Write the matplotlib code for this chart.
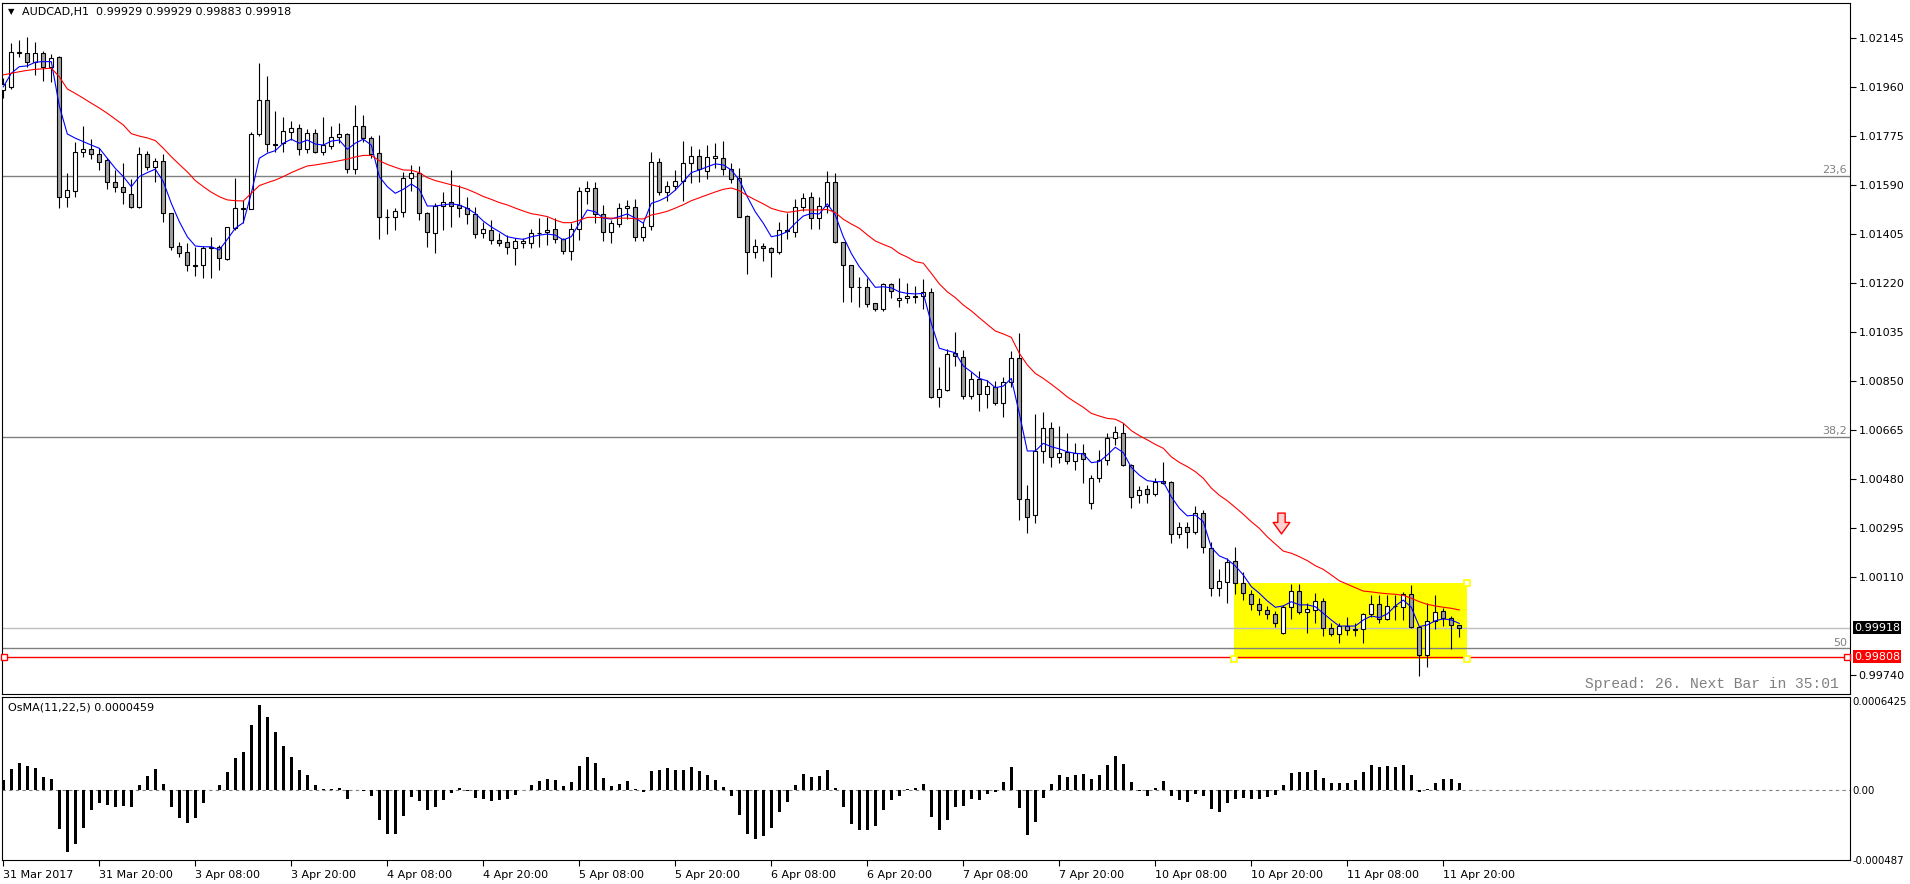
import matplotlib
matplotlib.use('Agg')
import matplotlib.pyplot as plt
import matplotlib.transforms as mtransforms
from matplotlib.patches import Rectangle
from matplotlib.path import Path
import numpy as np

# AUDCAD H1, one candle per hour from 31 Mar 2017 08:00 to 11 Apr 2017 22:00
opens = [
    1.01948, 1.01960, 1.02090, 1.02087, 1.02053, 1.02087, 1.02036, 1.02071, 1.01543, 1.01568,
    1.01715, 1.01724, 1.01705, 1.01684, 1.01602, 1.01581, 1.01554, 1.01507, 1.01706, 1.01658,
    1.01680, 1.01485, 1.01359, 1.01335, 1.01287, 1.01287, 1.01350, 1.01356, 1.01309, 1.01426,
    1.01501, 1.01500, 1.01781, 1.01910, 1.01744, 1.01747, 1.01788, 1.01803, 1.01724, 1.01784,
    1.01715, 1.01737, 1.01769, 1.01781, 1.01649, 1.01812, 1.01766, 1.01709, 1.01470, 1.01470,
    1.01488, 1.01615, 1.01636, 1.01482, 1.01407, 1.01510, 1.01526, 1.01514, 1.01501, 1.01479,
    1.01407, 1.01419, 1.01381, 1.01373, 1.01350, 1.01369, 1.01369, 1.01407, 1.01411, 1.01422,
    1.01384, 1.01341, 1.01422, 1.01567, 1.01577, 1.01479, 1.01413, 1.01442, 1.01501, 1.01505,
    1.01394, 1.01436, 1.01675, 1.01562, 1.01587, 1.01606, 1.01671, 1.01700, 1.01642, 1.01690,
    1.01690, 1.01649, 1.01615, 1.01472, 1.01337, 1.01359, 1.01350, 1.01335, 1.01419, 1.01413,
    1.01507, 1.01543, 1.01464, 1.01511, 1.01599, 1.01375, 1.01287, 1.01203, 1.01205, 1.01143,
    1.01120, 1.01214, 1.01155, 1.01161, 1.01171, 1.01170, 1.01184, 1.00788, 1.00815, 1.00954,
    1.00941, 1.00794, 1.00856, 1.00799, 1.00828, 1.00765, 1.00847, 1.00935, 1.00403, 1.00343,
    1.00585, 1.00671, 1.00561, 1.00582, 1.00548, 1.00576, 1.00388, 1.00482, 1.00551, 1.00633,
    1.00654, 1.00532, 1.00419, 1.00440, 1.00423, 1.00472, 1.00467, 1.00270, 1.00299, 1.00278,
    1.00352, 1.00218, 1.00067, 1.00089, 1.00170, 1.00085, 1.00045, 1.00006, 0.99985, 0.99968,
    0.99897, 0.99997, 1.00056, 0.99976, 0.99985, 1.00019, 0.99916, 0.99893, 0.99924, 0.99913,
    0.99912, 0.99968, 1.00007, 0.99950, 1.00000, 0.99997, 1.00045, 0.99922, 0.99815, 0.99943,
    0.99981, 0.99953, 0.99929,
]
highs = [
    1.01993, 1.02124, 1.02137, 1.02147, 1.02130, 1.02096, 1.02084, 1.02076, 1.01633, 1.01750,
    1.01812, 1.01762, 1.01730, 1.01690, 1.01646, 1.01673, 1.01612, 1.01732, 1.01719, 1.01692,
    1.01705, 1.01485, 1.01373, 1.01369, 1.01356, 1.01359, 1.01392, 1.01363, 1.01432, 1.01615,
    1.01533, 1.01791, 1.02049, 1.02002, 1.01869, 1.01847, 1.01832, 1.01820, 1.01800, 1.01800,
    1.01845, 1.01812, 1.01822, 1.01786, 1.01891, 1.01854, 1.01774, 1.01778, 1.01499, 1.01501,
    1.01639, 1.01665, 1.01661, 1.01487, 1.01520, 1.01564, 1.01646, 1.01589, 1.01545, 1.01507,
    1.01451, 1.01457, 1.01407, 1.01400, 1.01388, 1.01388, 1.01423, 1.01466, 1.01468, 1.01464,
    1.01390, 1.01445, 1.01581, 1.01604, 1.01602, 1.01514, 1.01457, 1.01520, 1.01533, 1.01536,
    1.01451, 1.01715, 1.01692, 1.01604, 1.01646, 1.01755, 1.01738, 1.01724, 1.01740, 1.01747,
    1.01755, 1.01673, 1.01652, 1.01476, 1.01384, 1.01369, 1.01356, 1.01451, 1.01482, 1.01535,
    1.01560, 1.01564, 1.01545, 1.01642, 1.01636, 1.01375, 1.01287, 1.01243, 1.01237, 1.01143,
    1.01218, 1.01221, 1.01237, 1.01221, 1.01208, 1.01233, 1.01199, 1.00901, 1.00969, 1.01035,
    1.00966, 1.00884, 1.00887, 1.00853, 1.00850, 1.00866, 1.00964, 1.01029, 1.00457, 1.00725,
    1.00731, 1.00693, 1.00679, 1.00652, 1.00616, 1.00610, 1.00494, 1.00589, 1.00653, 1.00679,
    1.00692, 1.00536, 1.00454, 1.00457, 1.00483, 1.00545, 1.00472, 1.00318, 1.00318, 1.00378,
    1.00362, 1.00243, 1.00138, 1.00180, 1.00221, 1.00127, 1.00060, 1.00029, 1.00000, 0.99981,
    1.00003, 1.00082, 1.00083, 1.00010, 1.00050, 1.00029, 0.99934, 0.99934, 0.99957, 0.99934,
    0.99974, 1.00041, 1.00041, 1.00041, 1.00041, 1.00054, 1.00079, 0.99924, 1.00010, 1.00041,
    0.99993, 0.99963, 0.99929,
]
lows = [
    1.01918, 1.01950, 1.02074, 1.02036, 1.02005, 1.01983, 1.01979, 1.01502, 1.01507, 1.01545,
    1.01696, 1.01687, 1.01646, 1.01573, 1.01564, 1.01518, 1.01501, 1.01502, 1.01646, 1.01602,
    1.01451, 1.01344, 1.01319, 1.01266, 1.01246, 1.01237, 1.01237, 1.01268, 1.01306, 1.01419,
    1.01445, 1.01497, 1.01775, 1.01715, 1.01715, 1.01715, 1.01759, 1.01703, 1.01711, 1.01710,
    1.01703, 1.01725, 1.01747, 1.01636, 1.01631, 1.01753, 1.01690, 1.01385, 1.01404, 1.01419,
    1.01470, 1.01567, 1.01457, 1.01356, 1.01331, 1.01419, 1.01432, 1.01470, 1.01441, 1.01388,
    1.01388, 1.01365, 1.01360, 1.01329, 1.01287, 1.01350, 1.01352, 1.01356, 1.01363, 1.01369,
    1.01329, 1.01306, 1.01382, 1.01518, 1.01445, 1.01379, 1.01371, 1.01430, 1.01461, 1.01379,
    1.01379, 1.01419, 1.01552, 1.01530, 1.01570, 1.01530, 1.01598, 1.01602, 1.01612, 1.01652,
    1.01627, 1.01598, 1.01467, 1.01253, 1.01313, 1.01303, 1.01243, 1.01329, 1.01384, 1.01394,
    1.01492, 1.01422, 1.01422, 1.01482, 1.01369, 1.01146, 1.01149, 1.01128, 1.01128, 1.01115,
    1.01115, 1.01161, 1.01130, 1.01145, 1.01143, 1.01120, 1.00784, 1.00752, 1.00812, 1.00906,
    1.00780, 1.00780, 1.00737, 1.00748, 1.00759, 1.00712, 1.00828, 1.00324, 1.00274, 1.00314,
    1.00539, 1.00526, 1.00539, 1.00536, 1.00513, 1.00465, 1.00365, 1.00469, 1.00532, 1.00608,
    1.00528, 1.00369, 1.00390, 1.00388, 1.00415, 1.00460, 1.00239, 1.00255, 1.00218, 1.00272,
    1.00201, 1.00038, 1.00038, 1.00012, 1.00045, 1.00022, 0.99985, 0.99966, 0.99951, 0.99919,
    0.99894, 0.99951, 0.99970, 0.99899, 0.99934, 0.99888, 0.99888, 0.99859, 0.99890, 0.99887,
    0.99859, 0.99957, 0.99934, 0.99947, 0.99947, 0.99947, 0.99916, 0.99737, 0.99771, 0.99913,
    0.99924, 0.99837, 0.99883,
]
closes = [
    1.01971, 1.02090, 1.02088, 1.02053, 1.02087, 1.02036, 1.02068, 1.01543, 1.01570, 1.01715,
    1.01724, 1.01705, 1.01677, 1.01602, 1.01581, 1.01564, 1.01507, 1.01705, 1.01658, 1.01680,
    1.01482, 1.01356, 1.01334, 1.01287, 1.01285, 1.01350, 1.01354, 1.01313, 1.01430, 1.01501,
    1.01500, 1.01781, 1.01910, 1.01744, 1.01742, 1.01793, 1.01803, 1.01724, 1.01784, 1.01713,
    1.01740, 1.01769, 1.01781, 1.01649, 1.01812, 1.01766, 1.01706, 1.01470, 1.01468, 1.01491,
    1.01615, 1.01636, 1.01482, 1.01411, 1.01510, 1.01526, 1.01510, 1.01501, 1.01479, 1.01403,
    1.01422, 1.01380, 1.01371, 1.01356, 1.01378, 1.01378, 1.01407, 1.01409, 1.01419, 1.01384,
    1.01341, 1.01422, 1.01567, 1.01577, 1.01479, 1.01413, 1.01445, 1.01501, 1.01510, 1.01394,
    1.01430, 1.01675, 1.01562, 1.01587, 1.01606, 1.01671, 1.01700, 1.01650, 1.01694, 1.01699,
    1.01649, 1.01611, 1.01470, 1.01337, 1.01359, 1.01350, 1.01335, 1.01419, 1.01416, 1.01507,
    1.01539, 1.01464, 1.01511, 1.01599, 1.01375, 1.01287, 1.01203, 1.01205, 1.01139, 1.01120,
    1.01214, 1.01188, 1.01161, 1.01170, 1.01165, 1.01184, 1.00788, 1.00818, 1.00950, 1.00945,
    1.00794, 1.00856, 1.00799, 1.00832, 1.00765, 1.00847, 1.00935, 1.00403, 1.00335, 1.00585,
    1.00671, 1.00561, 1.00576, 1.00547, 1.00576, 1.00554, 1.00482, 1.00551, 1.00633, 1.00658,
    1.00532, 1.00412, 1.00438, 1.00423, 1.00469, 1.00463, 1.00270, 1.00299, 1.00278, 1.00352,
    1.00221, 1.00067, 1.00094, 1.00167, 1.00085, 1.00048, 1.00006, 0.99985, 0.99968, 0.99934,
    0.99997, 1.00056, 0.99976, 0.99987, 1.00019, 0.99916, 0.99893, 0.99924, 0.99909, 0.99909,
    0.99968, 1.00007, 0.99950, 1.00000, 0.99998, 1.00045, 0.99922, 0.99815, 0.99943, 0.99976,
    0.99956, 0.99929, 0.99918,
]
# blue (fast) and red (slow) moving averages
ma_fast = [
    1.01960, 1.02011, 1.02036, 1.02039, 1.02053, 1.02055, 1.02055, 1.01888, 1.01782, 1.01766,
    1.01753, 1.01740, 1.01728, 1.01690, 1.01652, 1.01621, 1.01583, 1.01621, 1.01636, 1.01649,
    1.01602, 1.01520, 1.01451, 1.01394, 1.01359, 1.01356, 1.01356, 1.01344, 1.01384, 1.01426,
    1.01447, 1.01558, 1.01690, 1.01709, 1.01719, 1.01747, 1.01762, 1.01747, 1.01759, 1.01744,
    1.01740, 1.01755, 1.01759, 1.01724, 1.01747, 1.01762, 1.01740, 1.01621, 1.01583, 1.01558,
    1.01573, 1.01593, 1.01573, 1.01510, 1.01510, 1.01514, 1.01518, 1.01514, 1.01501, 1.01482,
    1.01453, 1.01431, 1.01413, 1.01394, 1.01388, 1.01384, 1.01394, 1.01400, 1.01404, 1.01400,
    1.01382, 1.01394, 1.01445, 1.01495, 1.01488, 1.01464, 1.01461, 1.01470, 1.01480, 1.01464,
    1.01445, 1.01520, 1.01530, 1.01545, 1.01570, 1.01602, 1.01636, 1.01646, 1.01658, 1.01669,
    1.01665, 1.01646, 1.01608, 1.01545, 1.01488, 1.01445, 1.01394, 1.01400, 1.01413, 1.01445,
    1.01472, 1.01482, 1.01480, 1.01518, 1.01476, 1.01394, 1.01331, 1.01281, 1.01243, 1.01203,
    1.01205, 1.01201, 1.01186, 1.01180, 1.01178, 1.01180, 1.01067, 1.00973, 1.00964, 1.00956,
    1.00906, 1.00884, 1.00859, 1.00850, 1.00824, 1.00830, 1.00859, 1.00727, 1.00585, 1.00585,
    1.00614, 1.00601, 1.00593, 1.00582, 1.00576, 1.00574, 1.00541, 1.00545, 1.00570, 1.00599,
    1.00579, 1.00523, 1.00494, 1.00473, 1.00469, 1.00469, 1.00412, 1.00369, 1.00340, 1.00343,
    1.00318, 1.00221, 1.00189, 1.00176, 1.00151, 1.00117, 1.00073, 1.00048, 1.00019, 0.99995,
    1.00000, 1.00016, 1.00004, 1.00004, 0.99997, 0.99972, 0.99947, 0.99924, 0.99924, 0.99924,
    0.99947, 0.99962, 0.99956, 0.99970, 1.00000, 1.00022, 0.99995, 0.99922, 0.99928, 0.99944,
    0.99951, 0.99947, 0.99934,
]
ma_slow = [
    1.02005, 1.02011, 1.02017, 1.02022, 1.02026, 1.02028, 1.02030, 1.01998, 1.01952, 1.01935,
    1.01917, 1.01898, 1.01880, 1.01860, 1.01838, 1.01816, 1.01783, 1.01774, 1.01767, 1.01757,
    1.01728, 1.01696, 1.01667, 1.01639, 1.01606, 1.01583, 1.01562, 1.01545, 1.01533, 1.01530,
    1.01529, 1.01558, 1.01587, 1.01598, 1.01608, 1.01621, 1.01636, 1.01649, 1.01661, 1.01665,
    1.01670, 1.01675, 1.01681, 1.01687, 1.01695, 1.01701, 1.01701, 1.01681, 1.01667, 1.01656,
    1.01646, 1.01645, 1.01636, 1.01617, 1.01606, 1.01598, 1.01590, 1.01583, 1.01573, 1.01560,
    1.01546, 1.01535, 1.01523, 1.01514, 1.01502, 1.01491, 1.01481, 1.01476, 1.01470, 1.01457,
    1.01447, 1.01447, 1.01456, 1.01467, 1.01467, 1.01466, 1.01464, 1.01464, 1.01464, 1.01462,
    1.01461, 1.01476, 1.01482, 1.01490, 1.01502, 1.01515, 1.01530, 1.01541, 1.01552, 1.01563,
    1.01573, 1.01578, 1.01568, 1.01549, 1.01533, 1.01518, 1.01501, 1.01492, 1.01486, 1.01490,
    1.01495, 1.01495, 1.01495, 1.01497, 1.01485, 1.01460, 1.01442, 1.01426, 1.01401, 1.01378,
    1.01365, 1.01353, 1.01331, 1.01317, 1.01300, 1.01294, 1.01256, 1.01216, 1.01186, 1.01164,
    1.01136, 1.01114, 1.01088, 1.01063, 1.01038, 1.01027, 1.01014, 1.00954, 1.00910, 1.00878,
    1.00859, 1.00837, 1.00814, 1.00789, 1.00769, 1.00750, 1.00727, 1.00717, 1.00708, 1.00705,
    1.00690, 1.00662, 1.00643, 1.00627, 1.00610, 1.00595, 1.00563, 1.00542, 1.00526, 1.00507,
    1.00482, 1.00445, 1.00418, 1.00397, 1.00372, 1.00346, 1.00318, 1.00293, 1.00261, 1.00234,
    1.00207, 1.00199, 1.00186, 1.00171, 1.00152, 1.00138, 1.00117, 1.00095, 1.00082, 1.00069,
    1.00056, 1.00053, 1.00049, 1.00046, 1.00044, 1.00040, 1.00029, 1.00016, 1.00006, 1.00000,
    0.99995, 0.99991, 0.99985,
]
# OsMA(11,22,5) histogram
osma = [
    0.0000643, 0.000145, 0.000186, 0.000165, 0.000152, 0.0000895, 0.0000758, -0.000273, -0.000432, -0.000377,
    -0.000266, -0.000142, -0.0000895, -0.000108, -0.000122, -0.000115, -0.000122, 0.0000344, 0.0000964, 0.000145,
    0.0000413, -0.000122, -0.000197, -0.000232, -0.000197, -0.0000941, -0.000002, 0.0000344, 0.000124, 0.000220,
    0.000262, 0.000448, 0.000585, 0.000503, 0.000397, 0.000303, 0.000227, 0.000138, 0.000103, 0.0000344,
    0.000005, 0.000004, 0.0000115, -0.0000643, -0.000005, -0.000007, -0.0000459, -0.000211, -0.000308, -0.000308,
    -0.000184, -0.0000528, -0.0000804, -0.000140, -0.000122, -0.0000735, -0.0000253, 0.0000092, -0.000007, -0.0000597,
    -0.0000643, -0.0000804, -0.0000712, -0.0000643, -0.000039, -0.000004, 0.0000321, 0.000062, 0.0000735, 0.0000689,
    0.0000276, 0.0000551, 0.000165, 0.000227, 0.000186, 0.0000804, 0.0000276, 0.000039, 0.000062, 0.000005,
    -0.0000184, 0.000131, 0.000138, 0.000152, 0.000138, 0.000138, 0.000158, 0.000130, 0.000103, 0.0000689,
    0.0000184, -0.0000413, -0.000172, -0.000305, -0.000344, -0.000321, -0.000266, -0.000156, -0.0000827, 0.0000344,
    0.000110, 0.0000895, 0.0000964, 0.000138, 0.0000138, -0.000122, -0.000241, -0.000276, -0.000280, -0.000253,
    -0.000142, -0.0000735, -0.0000413, 0.000002, 0.0000138, 0.0000413, -0.000191, -0.000280, -0.000211, -0.000122,
    -0.000110, -0.0000643, -0.0000689, -0.0000276, -0.0000184, 0.0000551, 0.000158, -0.000129, -0.000315, -0.000225,
    -0.0000597, 0.000039, 0.000103, 0.0000895, 0.000103, 0.000110, 0.0000735, 0.000103, 0.000172, 0.000234,
    0.000179, 0.0000551, -0.0000069, -0.0000413, 0.0000138, 0.000062, -0.0000459, -0.0000735, -0.0000872, -0.0000276,
    -0.0000413, -0.000133, -0.000156, -0.0000941, -0.0000666, -0.0000551, -0.000062, -0.000062, -0.0000505, -0.000039,
    0.0000344, 0.000117, 0.000124, 0.000124, 0.000138, 0.0000827, 0.0000482, 0.0000482, 0.0000482, 0.0000689,
    0.000124, 0.000172, 0.000158, 0.000165, 0.000158, 0.000172, 0.000103, -0.0000161, 0.000002, 0.0000482,
    0.0000758, 0.0000758, 0.0000459,
]

time_labels = ['31 Mar 2017', '31 Mar 20:00', '3 Apr 08:00', '3 Apr 20:00', '4 Apr 08:00',
               '4 Apr 20:00', '5 Apr 08:00', '5 Apr 20:00', '6 Apr 08:00', '6 Apr 20:00',
               '7 Apr 08:00', '7 Apr 20:00', '10 Apr 08:00', '10 Apr 20:00', '11 Apr 08:00',
               '11 Apr 20:00']
price_ticks = [1.02145, 1.01960, 1.01775, 1.01590, 1.01405, 1.01220, 1.01035,
               1.00850, 1.00665, 1.00480, 1.00295, 1.00110, 0.99740]
fib_levels = [1.01623, 1.00639, 0.99840]
fib_names = ['23,6', '38,2', '50']
bid_price = 0.99918
line_price = 0.99808
box_top, box_bottom = 1.00088, 0.99800
osma_top, osma_bottom = 0.0006425, -0.000487
title = 'AUDCAD,H1  0.99929 0.99929 0.99883 0.99918'
osma_title = 'OsMA(11,22,5) 0.0000459'

# ---- layout (pixels of the 1910x884 picture) ----
W, H = 1910, 884
bar_px, first_px = 8.0, 3.3
plt.rcParams['font.family'] = 'DejaVu Sans'

fig = plt.figure(figsize=(W / 100, H / 100), dpi=100)
ax = fig.add_axes([2 / W, 1 - 694 / H, 1848 / W, 691 / H])
ax2 = fig.add_axes([2 / W, 1 - 860 / H, 1848 / W, 163 / H])

n = len(closes)
x = np.arange(n)
xlim = ((2 - first_px) / bar_px, (1850 - first_px) / bar_px)
def px_to_bar(px):
    return (px - first_px) / bar_px

o, h, l, c = map(np.array, (opens, highs, lows, closes))

# yellow zone and horizontal objects behind candles
ax.add_patch(Rectangle((px_to_bar(1234), box_bottom), px_to_bar(1467) - px_to_bar(1234),
                       box_top - box_bottom, facecolor='#ffff00', edgecolor='none', zorder=1))
for lvl, name in zip(fib_levels, fib_names):
    ax.axhline(lvl, color='#808080', lw=1, zorder=1.5)
    ax.text(px_to_bar(1847), lvl + 0.00003, name, ha='right', va='bottom',
            color='#808080', fontsize=8, zorder=6)
ax.axhline(bid_price, color='#c0c0c0', lw=1, zorder=1.5)
ax.axhline(line_price, color='#ff0000', lw=1, zorder=1.6)

# candles
up = c >= o
ax.vlines(x, l, h, color='black', lw=0.8, zorder=3)
ax.bar(x, np.abs(c - o), bottom=np.minimum(o, c), width=0.5,
       color=np.where(up, 'white', '#a0a0a0'), edgecolor='black', linewidth=0.8, zorder=4)

ax.plot(x, ma_fast, color='#0000ff', lw=0.8, zorder=5)
ax.plot(x, ma_slow, color='#ff0000', lw=0.8, zorder=5)

# selection anchors
ax.plot([px_to_bar(4), px_to_bar(1847)], [line_price, line_price], 's', ms=4,
        mfc='white', mec='#ff0000', mew=1, zorder=6, clip_on=False)
ax.plot([px_to_bar(1467), px_to_bar(1234), px_to_bar(1467)], [box_top, box_bottom, box_bottom],
        's', ms=4, mfc='white', mec='#ffff00', mew=1.2, zorder=6)

# hollow down arrow
arrow = Path([(-0.35, 1), (0.35, 1), (0.35, 0.1), (0.8, 0.1), (0, -1), (-0.8, 0.1), (-0.35, 0.1), (-0.35, 1)],
             [Path.MOVETO] + [Path.LINETO] * 6 + [Path.CLOSEPOLY])
ax.plot([px_to_bar(1281)], [1.00313], marker=arrow, ms=15, mfc='#ffd0d0', mec='#ff0000', mew=1, zorder=6)

ax.set_xlim(*xlim)
ax.set_ylim(0.996675, 1.022764)
ax.yaxis.tick_right()
ax.set_yticks(price_ticks)
ax.set_yticklabels(['%.5f' % p for p in price_ticks])
ax.tick_params(axis='y', length=4, width=0.8, pad=2, labelsize=8, colors='black')
ax.tick_params(axis='x', bottom=False, labelbottom=False)
for s in ax.spines.values():
    s.set_linewidth(0.8)

# price labels on the right axis
lab_tr = mtransforms.blended_transform_factory(fig.transFigure, ax.transData)
ax.text(1854 / W, bid_price, '%.5f' % bid_price, transform=lab_tr, ha='left', va='center',
        color='white', fontsize=8, bbox=dict(boxstyle='square,pad=0.12', fc='black', ec='none'))
ax.text(1854 / W, line_price, '%.5f' % line_price, transform=lab_tr, ha='left', va='center',
        color='white', fontsize=8, bbox=dict(boxstyle='square,pad=0.12', fc='#ff0000', ec='none'))

fig.text(8 / W, 1 - 12 / H, '\u25bc', fontsize=6, va='center')
fig.text(22 / W, 1 - 12.5 / H, title, fontsize=8, va='center')
fig.text(1839 / W, 1 - 684 / H, 'Spread: 26. Next Bar in 35:01', ha='right', va='center',
         family='Liberation Mono', fontsize=10.5, color='#808080')

# OsMA panel
ax2.bar(x, osma, width=0.375, color='black', linewidth=0, zorder=3)
ax2.axhline(0, color='#808080', lw=0.8, ls=(0, (3, 3)), zorder=2)
ax2.set_xlim(*xlim)
ax2.set_ylim(osma_bottom, osma_top)
ax2.yaxis.tick_right()
ax2.set_yticks([osma_top, 0, osma_bottom])
ax2.set_yticklabels(['0.0006425', '0.00', '-0.000487'])
ax2.tick_params(axis='y', length=0, pad=2, labelsize=7.3)
ax2.get_yticklabels()[0].set_va('top')
ax2.set_xticks(np.arange(len(time_labels)) * 12)
ax2.set_xticklabels(time_labels, ha='left', fontsize=8)
ax2.tick_params(axis='x', length=4, width=0.8, pad=3)
for s in ax2.spines.values():
    s.set_linewidth(0.8)
fig.text(8 / W, 1 - 707.5 / H, osma_title, fontsize=8, va='center')

fig.savefig('out.png', dpi=100)
